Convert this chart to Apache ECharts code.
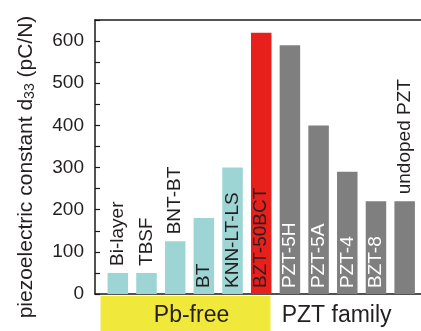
<!DOCTYPE html>
<html>
<head>
<meta charset="utf-8">
<script src="https://cdn.jsdelivr.net/npm/echarts@6/dist/echarts.min.js"></script>
<style>
  html, body { margin: 0; padding: 0; background: #ffffff; }
  #chart { width: 421px; height: 331px; }
</style>
</head>
<body>
<div id="chart"></div>
<script>
// Piezoelectric coefficient d33 (pC/N) of lead-free ceramics and the PZT family
const materials = ['Bi-layer', 'TBSF', 'BNT-BT', 'BT', 'KNN-LT-LS', 'BZT-50BCT',
                   'PZT-5H', 'PZT-5A', 'PZT-4', 'BZT-8', 'undoped PZT'];
const d33 = [50, 50, 125, 180, 300, 620, 590, 400, 290, 220, 220];
const family = ['Pb-free', 'Pb-free', 'Pb-free', 'Pb-free', 'Pb-free', 'Pb-free',
                'PZT family', 'PZT family', 'PZT family', 'PZT family', 'PZT family'];
const highlighted = 'BZT-50BCT';
const yTicks = [0, 100, 200, 300, 400, 500, 600];

const FONT = "'Liberation Sans', Arial, Helvetica, sans-serif";
const TEXT = '#231f20';
const COLORS = { 'Pb-free': '#9dd4d4', 'PZT family': '#7f7f7f', highlight: '#e8201c' };
const BAR_W = 20.5;
const LABEL_SIZE = 19;
const Y_MAX = 650;
const X_MIN = -0.795, X_MAX = 10.57;

const chart = echarts.init(document.getElementById('chart'), null, { renderer: 'canvas' });

// measure label length to decide whether it fits inside its bar
const ctx = document.createElement('canvas').getContext('2d');
ctx.font = LABEL_SIZE + 'px ' + FONT;
const plotTop = 20, plotBottom = 294;
const pxPerUnit = (plotBottom - plotTop) / Y_MAX;

const barData = materials.map((name, i) => {
  const barLen = d33[i] * pxPerUnit;
  const textLen = ctx.measureText(name).width;
  const inside = textLen + 12 < barLen;
  const isHi = name === highlighted;
  const color = isHi ? COLORS.highlight : COLORS[family[i]];
  const labelColor = inside && family[i] === 'PZT family' ? '#ffffff' : TEXT;
  return {
    name: name,
    value: [i, d33[i]],
    itemStyle: { color: color },
    label: {
      position: inside ? 'insideBottom' : 'top',
      distance: inside ? 6 : 7,
      color: labelColor
    }
  };
});

const option = {
  animation: false,
  backgroundColor: '#ffffff',
  grid: { left: 95, right: 0, top: plotTop, bottom: 331 - plotBottom, containLabel: false },
  xAxis: [
    {
      type: 'value', min: X_MIN, max: X_MAX, position: 'bottom',
      axisLine: { show: true, onZero: false, lineStyle: { color: '#1a1a1a', width: 1.5 } },
      axisTick: { show: false }, axisLabel: { show: false }, splitLine: { show: false }
    },
    {
      type: 'value', min: X_MIN, max: X_MAX, position: 'top',
      axisLine: { show: true, onZero: false, lineStyle: { color: '#1a1a1a', width: 1.5 } },
      axisTick: { show: false }, axisLabel: { show: false }, splitLine: { show: false }
    }
  ],
  yAxis: {
    type: 'value', min: 0, max: Y_MAX, interval: 50,
    name: 'piezoelectric constant d{sub|33} (pC/N)',
    nameLocation: 'middle', nameRotate: 90, nameGap: 58,
    nameTextStyle: {
      fontFamily: FONT, fontSize: 21, color: TEXT, padding: [0, 20, 0, 0],
      rich: { sub: { fontFamily: FONT, fontSize: 14, color: TEXT, verticalAlign: 'bottom', padding: [8, 0, 0, 0] } }
    },
    axisLine: { show: true, onZero: false, lineStyle: { color: '#1a1a1a', width: 1.5 } },
    axisTick: { show: true, inside: true, length: 5, lineStyle: { color: '#1a1a1a', width: 1.2 } },
    axisLabel: {
      fontFamily: FONT, fontSize: 19, color: TEXT, margin: 11,
      formatter: v => (yTicks.indexOf(v) >= 0 ? String(v) : '')
    },
    splitLine: { show: false }
  },
  series: [{
    type: 'bar',
    xAxisIndex: 0,
    barWidth: BAR_W,
    data: barData,
    label: {
      show: true, rotate: 90, align: 'left', verticalAlign: 'middle',
      fontFamily: FONT, fontSize: LABEL_SIZE,
      formatter: p => p.name
    }
  }]
};

chart.setOption(option);

// group bands under the axis: Pb-free (yellow) and PZT family
function groupSpan(fam) {
  const idx = family.map((f, i) => (f === fam ? i : -1)).filter(i => i >= 0);
  const a = chart.convertToPixel({ xAxisIndex: 0 }, idx[0]);
  const b = chart.convertToPixel({ xAxisIndex: 0 }, idx[idx.length - 1]);
  return [a - BAR_W / 2, b + BAR_W / 2];
}
const pb = groupSpan('Pb-free');
const pzt = groupSpan('PZT family');
const bandTop = plotBottom + 2;
chart.setOption({
  graphic: [
    { type: 'rect', shape: { x: pb[0] - 7, y: bandTop, width: pb[1] - pb[0] + 6, height: 331 - bandTop },
      style: { fill: '#f1e83c' }, z: 1 },
    { type: 'text', x: (pb[0] + pb[1]) / 2 + 2, y: 316,
      style: { text: 'Pb-free', font: '23px ' + FONT, fill: TEXT, align: 'center', verticalAlign: 'middle' }, z: 2 },
    { type: 'text', x: pzt[0] + 2, y: 316,
      style: { text: 'PZT family', font: '23px ' + FONT, fill: TEXT, align: 'left', verticalAlign: 'middle' }, z: 2 }
  ]
});
</script>
</body>
</html>
